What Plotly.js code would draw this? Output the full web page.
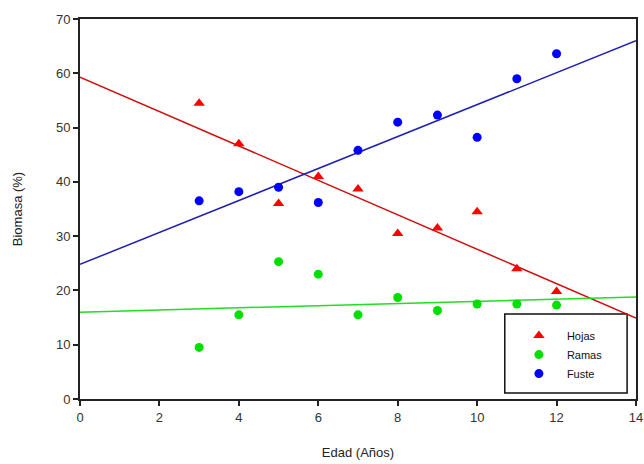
<!DOCTYPE html>
<html><head><meta charset="utf-8">
<script src="https://cdn.plot.ly/plotly-3.0.1.min.js"></script>
<style>html,body{margin:0;padding:0;background:#fff}#chart{width:644px;height:464px}</style>
</head><body><div id="chart"></div>
<script>
const edad = [3, 4, 5, 6, 7, 8, 9, 10, 11, 12];
const hojas = [54.5, 47, 36, 41, 38.7, 30.5, 31.5, 34.5, 24, 19.8];
const ramas = [9.5, 15.5, 25.3, 23, 15.5, 18.7, 16.3, 17.5, 17.5, 17.3];
const fuste = [36.5, 38.2, 39, 36.2, 45.8, 51, 52.3, 48.2, 59, 63.6];
const trendX = [0, 14];
const trendHojas = [59.3, 14.9];
const trendRamas = [16.0, 18.8];
const trendFuste = [24.8, 66.0];
const xTicks = [0, 2, 4, 6, 8, 10, 12, 14];
const yTicks = [0, 10, 20, 30, 40, 50, 60, 70];

const fontFam = 'Liberation Sans, Arial, sans-serif';
const traces = [
  {x: trendX, y: trendHojas, mode: 'lines', line: {color: '#d01010', width: 1.5}, showlegend: false, hoverinfo: 'skip'},
  {x: trendX, y: trendRamas, mode: 'lines', line: {color: '#22dd22', width: 1.5}, showlegend: false, hoverinfo: 'skip'},
  {x: trendX, y: trendFuste, mode: 'lines', line: {color: '#2020b0', width: 1.5}, showlegend: false, hoverinfo: 'skip'},
  {x: edad, y: hojas, name: 'Hojas', mode: 'markers', marker: {symbol: 'triangle-up', color: '#ff0000', size: 10}},
  {x: edad, y: ramas, name: 'Ramas', mode: 'markers', marker: {symbol: 'circle', color: '#00e000', size: 9}},
  {x: edad, y: fuste, name: 'Fuste', mode: 'markers', marker: {symbol: 'circle', color: '#0000ff', size: 9}}
];
const axisCommon = {
  showgrid: false, zeroline: false, showline: true, linecolor: '#222', linewidth: 2,
  mirror: true, ticks: 'outside', ticklen: 5, tickwidth: 2, tickcolor: '#222',
  tickfont: {family: fontFam, size: 13, color: '#333'}
};
const layout = {
  width: 644, height: 464,
  margin: {l: 80, r: 8, t: 19, b: 65},
  paper_bgcolor: '#fff', plot_bgcolor: '#fff',
  font: {family: fontFam},
  xaxis: Object.assign({}, axisCommon, {range: [0, 14], tickvals: xTicks,
    title: {text: 'Edad (Años)', font: {family: fontFam, size: 13, color: '#222'}, standoff: 24}}),
  yaxis: Object.assign({}, axisCommon, {range: [0, 70], tickvals: yTicks,
    title: {text: 'Biomasa (%)', font: {family: fontFam, size: 13, color: '#222'}, standoff: 30}}),
  legend: {x: 0.775, y: 0.205, xanchor: 'left', yanchor: 'top',
    bgcolor: 'rgba(0,0,0,0)', borderwidth: 0,
    font: {family: fontFam, size: 11, color: '#111'}, itemwidth: 46, tracegroupgap: 2},
  shapes: [{type: 'rect', xref: 'paper', yref: 'paper', x0: 0.764, x1: 0.984, y0: 0.016, y1: 0.224,
    line: {color: '#111', width: 1.5}, fillcolor: '#fff', layer: 'below'}]
};
Plotly.newPlot('chart', traces, layout, {displayModeBar: false, staticPlot: true});
</script></body></html>
